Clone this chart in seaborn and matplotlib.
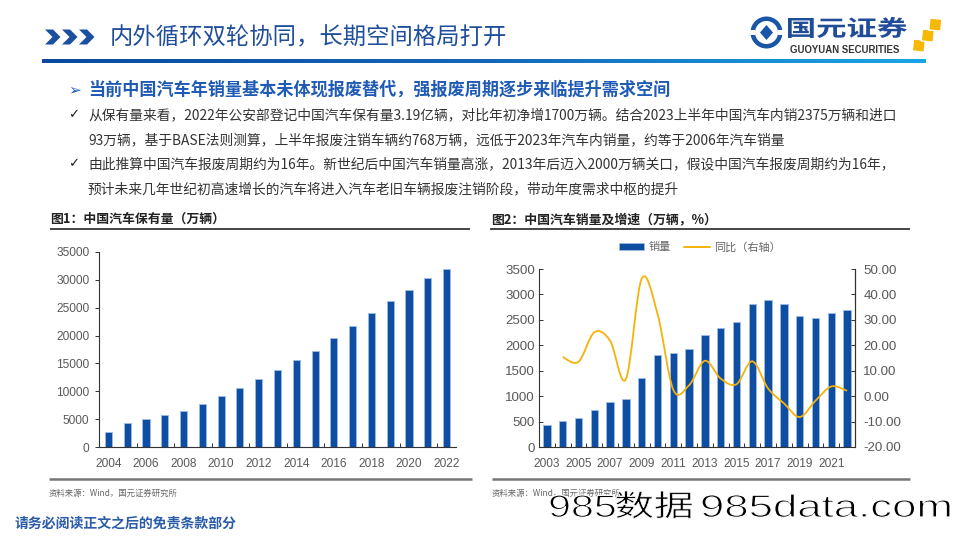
import numpy as np
import pandas as pd
import matplotlib
matplotlib.use('Agg')
import matplotlib.pyplot as plt
import seaborn as sns
from matplotlib.path import Path
from matplotlib.patches import PathPatch, Patch, Rectangle, Circle, Polygon
from matplotlib.lines import Line2D
from matplotlib.textpath import TextPath
from matplotlib.font_manager import FontProperties
from matplotlib.transforms import Affine2D

# ---------------- data ----------------
stock_years = [str(y) for y in range(2004, 2023)]
stock_values = [2780, 4350, 5000, 5720, 6500, 7640, 9130, 10620, 12120, 13780, 15530, 17320, 19540, 21800, 24120, 26120, 28250, 30350, 31950]
stock_yticks = [0, 5000, 10000, 15000, 20000, 25000, 30000, 35000]
stock_xlabels = ['2004', '2006', '2008', '2010', '2012', '2014', '2016', '2018', '2020', '2022']

sales_years = [str(y) for y in range(2003, 2023)]
sales_values = [439, 507, 576, 722, 879, 938, 1365, 1806, 1851, 1931, 2198, 2349, 2460, 2803, 2888, 2808, 2577, 2531, 2627, 2686]
growth_years = [str(y) for y in range(2004, 2023)]
growth_values = [15.4, 13.5, 25.1, 21.8, 6.7, 46.2, 32.4, 2.5, 4.3, 13.9, 6.9, 4.7, 13.7, 3.0, -2.8, -8.2, -1.8, 3.8, 2.1]
sales_yticks = [0, 500, 1000, 1500, 2000, 2500, 3000, 3500]
growth_yticks = [-20, -10, 0, 10, 20, 30, 40, 50]
sales_xlabels = ['2003', '2005', '2007', '2009', '2011', '2013', '2015', '2017', '2019', '2021']

bullets = [
    "从保有量来看，2022年公安部登记中国汽车保有量3.19亿辆，对比年初净增1700万辆。结合2023上半年中国汽车内销2375万辆和进口",
    "93万辆，基于BASE法则测算，上半年报废注销车辆约768万辆，远低于2023年汽车内销量，约等于2006年汽车销量",
    "由此推算中国汽车报废周期约为16年。新世纪后中国汽车销量高涨，2013年后迈入2000万辆关口，假设中国汽车报废周期约为16年，",
    "预计未来几年世纪初高速增长的汽车将进入汽车老旧车辆报废注销阶段，带动年度需求中枢的提升",
]

# ---------------- style ----------------
sns.set_theme(style='white')
plt.rcParams['font.family'] = ['Liberation Sans', 'Noto Sans CJK SC', 'DejaVu Sans']
CJK = ['Noto Sans CJK SC', 'DejaVu Sans']
BAR = '#0D4DA2'
BAR_EDGE = '#9FBCE4'
GOLD = '#F5B20A'
TICK = '#595959'
SPINE = '#333333'

W, H = 960, 540
fig = plt.figure(figsize=(9.6, 5.4), dpi=100)
fig.patch.set_facecolor('white')

def fx(x):
    return x / W

def fy(y):
    return 1 - y / H

# ---------------- overlay (header / footer decorations) ----------------
ov = fig.add_axes([0, 0, 1, 1], zorder=5)
ov.set_xlim(0, W)
ov.set_ylim(H, 0)
ov.axis('off')
ov.patch.set_alpha(0)

# chevrons
for i in range(3):
    x0 = 45 + i * 17
    yc, h, t = 37, 15, 8
    ov.add_patch(Polygon([(x0, yc - h / 2), (x0 + t, yc - h / 2), (x0 + t + h / 2, yc),
                          (x0 + t, yc + h / 2), (x0, yc + h / 2), (x0 + h / 2, yc)],
                         closed=True, color='#1B4F9F', lw=0))

# gradient line
grad = np.linspace(0, 1, 256).reshape(1, -1)
cmap = matplotlib.colors.LinearSegmentedColormap.from_list('g', ['#0A4A9E', '#1466B8', '#1AA5E6'])
ov.imshow(grad, cmap=cmap, aspect='auto', extent=[42, 926, 63.5, 59.5], zorder=1)
ov.set_xlim(0, W)
ov.set_ylim(H, 0)

fig.text(fx(110), fy(38), "内外循环双轮协同，长期空间格局打开", family=CJK, fontsize=16.8,
         color='#1F4E9B', va='center', ha='left')


def stretched(s, x0, x1, baseline, height_px, family, color, weight='normal', thin=0.0):
    fp = FontProperties(family=family, weight=weight)
    tp = TextPath((0, 0), s, size=100, prop=fp)
    ext = tp.get_extents()
    sy = height_px / ext.y1
    sx = (x1 - x0) / ext.width
    tr = Affine2D().translate(-ext.x0, 0).scale(sx, -sy).translate(x0, baseline) + ov.transData
    ov.add_patch(PathPatch(tp, transform=tr, facecolor=color,
                           edgecolor='white' if thin > 0 else 'none', lw=thin, zorder=6))

# logo
ov.add_patch(Circle((766.5, 32.5), 16, color='#1A56A8', lw=0))
ov.add_patch(Circle((766.5, 32.5), 11.5, color='white', lw=0))
ov.add_patch(Polygon([(766.5, 25), (773, 32.5), (766.5, 40), (760, 32.5)], color='#1A56A8', lw=0))
ov.add_patch(Rectangle((748, 30), 7, 5, color='white', lw=0))
ov.add_patch(Rectangle((778, 30), 7, 5, color='white', lw=0))
stretched("国元证券", 788, 907, 36, 19, 'Noto Sans CJK SC', '#1F4B97', weight='bold')
fig.text(fx(790), fy(50), "GUOYUAN SECURITIES", fontsize=6.9, fontweight='bold', color='#333333',
         va='center', ha='left', family=['Liberation Sans'])
for (sx0, sy0, ang) in [(913.5, 39, 6), (922.5, 29, 6), (930, 18, 6)]:
    ov.add_patch(Rectangle((sx0, sy0), 12, 12, angle=ang, facecolor='#F6B800',
                           edgecolor='white', lw=1.0))

# subtitle & bullets
fig.text(fx(68), fy(90), "➢", family=['DejaVu Sans'], fontsize=11, color='#1F5BB4', va='center', ha='left')
fig.text(fx(88), fy(90), "当前中国汽车年销量基本未体现报废替代，强报废周期逐步来临提升需求空间",
         family=CJK, fontsize=12.3, fontweight='bold', color='#1F5BB4', va='center', ha='left')
bullet_y = [115, 140, 164, 189]
for i, (txt, yy) in enumerate(zip(bullets, bullet_y)):
    if i in (0, 2):
        fig.text(fx(68), fy(yy), "✓", family=['DejaVu Sans'], fontsize=9.5, color='#222222', va='center', ha='left')
    fig.text(fx(88), fy(yy), txt, family=CJK, fontsize=9.9, color='#333333', va='center', ha='left')

# chart titles
fig.text(fx(50), fy(219), "图1：中国汽车保有量（万辆）", family=CJK, fontsize=9.3, fontweight='bold',
         color='#222222', va='center', ha='left')
fig.text(fx(491), fy(219), "图2：中国汽车销量及增速（万辆，%）", family=CJK, fontsize=9.3, fontweight='bold',
         color='#222222', va='center', ha='left')
ov.plot([50, 470], [229, 229], color='#444444', lw=1.4, solid_capstyle='butt')
ov.plot([490, 910], [229, 229], color='#444444', lw=1.4, solid_capstyle='butt')

# footer
ov.plot([49, 472], [478.5, 478.5], color='#777777', lw=1.8, solid_capstyle='butt')
ov.plot([492, 910], [478.5, 478.5], color='#777777', lw=1.8, solid_capstyle='butt')
fig.text(fx(49), fy(493), "资料来源：Wind，国元证券研究所", family=CJK, fontsize=6, color='#666666', va='center', ha='left')
fig.text(fx(492), fy(493), "资料来源：Wind，国元证券研究所", family=CJK, fontsize=6, color='#666666', va='center', ha='left')
fig.text(fx(15), fy(523), "请务必阅读正文之后的免责条款部分", family=CJK, fontsize=10, fontweight='bold',
         color='#2A5CAA', va='center', ha='left')

# watermark
stretched("985", 550, 615, 517, 22, 'Liberation Sans', 'black', thin=0.9)
stretched("数据", 616, 692, 516, 25, 'Noto Sans CJK SC', 'black', weight='light', thin=0.5)
stretched("985data.com", 702, 950, 517, 23, 'Liberation Sans', 'black', thin=0.9)

# ---------------- left chart ----------------
ax1 = fig.add_axes([fx(99), fy(447), (456 - 99) / W, (447 - 252) / H])
df1 = pd.DataFrame({'year': stock_years, 'value': stock_values})
sns.barplot(data=df1, x='year', y='value', color=BAR, width=0.38, ax=ax1,
            edgecolor=BAR_EDGE, linewidth=0.6, saturation=1)
ax1.set_xlim(-0.5, len(stock_years) - 0.5)
ax1.set_ylim(0, 35000)
ax1.set_yticks(stock_yticks)
ax1.set_yticklabels([str(v) for v in stock_yticks])
ax1.set_xticks([stock_years.index(y) for y in stock_xlabels])
ax1.set_xticklabels(stock_xlabels)
ax1.set_xticks(np.arange(1.5, len(stock_years) - 1, 2), minor=True)
ax1.tick_params(axis='x', which='major', length=0, pad=8, labelsize=8.6, labelcolor=TICK)
ax1.tick_params(axis='x', which='minor', direction='in', length=3, width=0.7, color=SPINE, bottom=True)
ax1.tick_params(axis='y', which='major', direction='out', length=3, width=0.7, color=SPINE,
                labelsize=8.6, labelcolor=TICK, pad=4, left=True)
ax1.set_xlabel('')
ax1.set_ylabel('')
for s in ['top', 'right']:
    ax1.spines[s].set_visible(False)
for s in ['left', 'bottom']:
    ax1.spines[s].set_color(SPINE)
    ax1.spines[s].set_linewidth(0.8)
ax1.grid(False)

# ---------------- right chart ----------------
ax2 = fig.add_axes([fx(539), fy(447), (855 - 539) / W, (447 - 269) / H])
df2 = pd.DataFrame({'year': sales_years, 'value': sales_values})
sns.barplot(data=df2, x='year', y='value', color=BAR, width=0.46, ax=ax2,
            edgecolor=BAR_EDGE, linewidth=0.6, saturation=1)
ax2.set_xlim(-0.5, len(sales_years) - 0.5)
ax2.set_ylim(0, 3500)
ax2.set_yticks(sales_yticks)
ax2.set_yticklabels([str(v) for v in sales_yticks])
ax2.set_xticks([sales_years.index(y) for y in sales_xlabels])
ax2.set_xticklabels(sales_xlabels)
ax2.set_xticks(np.arange(0.5, len(sales_years) - 1, 1), minor=True)
ax2.tick_params(axis='x', which='major', length=0, pad=8, labelsize=8.6, labelcolor=TICK)
ax2.tick_params(axis='x', which='minor', direction='in', length=3, width=0.7, color=SPINE, bottom=True)
ax2.tick_params(axis='y', which='major', direction='in', length=3, width=0.7, color=SPINE,
                labelsize=9.6, labelcolor=TICK, pad=3, left=True)
ax2.set_xlabel('')
ax2.set_ylabel('')
ax2.spines['top'].set_visible(False)
ax2.grid(False)
for s in ['left', 'bottom', 'right']:
    ax2.spines[s].set_color(SPINE)
    ax2.spines[s].set_linewidth(0.8)

ax3 = ax2.twinx()
ax3.set_ylim(-20, 50)
ax3.set_yticks(growth_yticks)
ax3.set_yticklabels([f"{v:.2f}" for v in growth_yticks])
ax3.tick_params(axis='y', direction='in', length=3, width=0.7, color=SPINE, labelsize=9.6,
                labelcolor=TICK, pad=6, right=True)
ax3.grid(False)
for s in ['top', 'left', 'bottom']:
    ax3.spines[s].set_visible(False)
ax3.spines['right'].set_color(SPINE)
ax3.spines['right'].set_linewidth(0.8)

# smoothed (Excel-like) growth line through the data points
gx = np.array([sales_years.index(y) for y in growth_years], dtype=float)
gy = np.array(growth_values, dtype=float)
pts = np.column_stack([gx, gy])
verts = [tuple(pts[0])]
codes = [Path.MOVETO]
n = len(pts)
for i in range(n - 1):
    p0 = pts[i - 1] if i > 0 else pts[i]
    p1 = pts[i]
    p2 = pts[i + 1]
    p3 = pts[i + 2] if i + 2 < n else pts[i + 1]
    c1 = p1 + (p2 - p0) / 6.0
    c2 = p2 - (p3 - p1) / 6.0
    verts += [tuple(c1), tuple(c2), tuple(p2)]
    codes += [Path.CURVE4] * 3
ax3.add_patch(PathPatch(Path(verts, codes), facecolor='none', edgecolor=GOLD, lw=1.3))

handles = [Patch(facecolor=BAR, edgecolor=BAR_EDGE, lw=0.5), Line2D([0], [0], color=GOLD, lw=1.4)]
fig.legend(handles, ['销量', '同比（右轴）'], loc='center', bbox_to_anchor=(fx(700), fy(247)),
           ncol=2, frameon=False, prop=FontProperties(family=CJK, size=8),
           labelcolor='#666666', handlelength=2.3, handleheight=0.6, columnspacing=1.2, handletextpad=0.4)

fig.savefig('out.png', dpi=100, facecolor='white')
